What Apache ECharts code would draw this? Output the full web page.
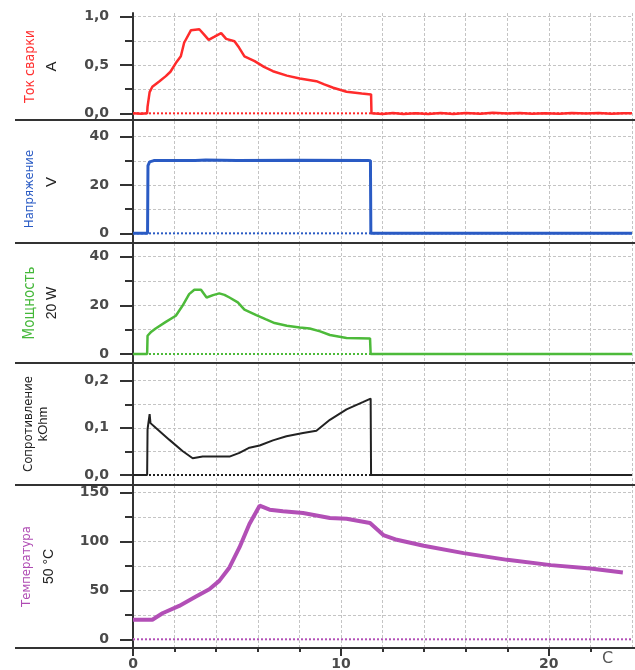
<!DOCTYPE html>
<html><head><meta charset="utf-8">
<script src="https://cdn.jsdelivr.net/npm/echarts@6/dist/echarts.min.js"></script>
<style>html,body{margin:0;padding:0;background:#fff}#c{width:635px;height:670px}</style>
</head><body><div id="c"></div>
<script>
// ---------- DATA ----------
const xMax = 24;
const xMajorTicks = [0, 10, 20];
const xMinorTicks = [2, 4, 6, 8, 12, 14, 16, 18, 22];

const titles = ['Ток сварки', 'Напряжение', 'Мощность', 'Сопротивление', 'Температура'];
const units = ['A', 'V', '20 W', 'kOhm', '50 °C'];

const currentMajor = [0, 0.5, 1.0], currentMinor = [0.25, 0.75];
const voltageMajor = [0, 20, 40], voltageMinor = [10, 30];
const powerMajor = [0, 20, 40], powerMinor = [10, 30];
const resistMajor = [0, 0.1, 0.2], resistMinor = [0.05, 0.15];
const tempMajor = [0, 50, 100, 150], tempMinor = [25, 75, 125];

const zeroLine = [[0, 0], [24, 0]];

const currentData = [[0,0],[0.4,-0.004],[0.68,0],[0.7,0.07],[0.78,0.08],[0.8,0.22],[0.93,0.275],[1.26,0.33],[1.58,0.385],[1.8,0.43],[2.06,0.52],[2.3,0.59],[2.46,0.73],[2.79,0.86],[3.19,0.87],[3.4,0.82],[3.64,0.76],[3.9,0.79],[4.24,0.83],[4.48,0.77],[4.88,0.745],[5.1,0.68],[5.36,0.59],[5.85,0.54],[6.3,0.48],[6.73,0.436],[7.4,0.39],[8.02,0.36],[8.82,0.333],[9.2,0.3],[9.63,0.265],[10.27,0.224],[11.0,0.205],[11.45,0.196],[11.47,0.0],[12,-0.006],[12.5,0.004],[13,-0.008],[13.6,0.002],[14.2,-0.006],[14.8,0.004],[15.4,-0.006],[16,0.003],[16.7,-0.004],[17.3,0.005],[18,-0.003],[18.6,0.004],[19.2,-0.005],[19.8,0.002],[20.5,-0.004],[21.1,0.004],[21.8,-0.003],[22.4,0.003],[23,-0.004],[23.6,0.002],[24,0.0]];

const voltageData = [[0,0],[0.7,0],[0.72,28],[0.8,29.6],[1.0,30.1],[3,30.1],[3.5,30.4],[5,30.1],[8,30.3],[11.3,30.2],[11.42,30.1],[11.44,0],[24,0]];

const powerData = [[0,0],[0.68,0],[0.7,7.5],[0.85,8.9],[1.09,10.5],[1.58,13.2],[2.06,15.7],[2.38,19.8],[2.7,24.6],[2.95,26.4],[3.27,26.4],[3.54,23.2],[3.85,24.2],[4.15,24.9],[4.4,24.3],[4.64,23.2],[5.04,21.2],[5.36,18.2],[5.93,16],[6.4,14.2],[6.81,12.7],[7.4,11.6],[8.02,10.9],[8.5,10.5],[9.0,9.3],[9.47,7.8],[10.27,6.6],[11.4,6.4],[11.43,0],[24,0]];

const resistanceData = [[0,0],[0.68,0],[0.7,0.097],[0.78,0.097],[0.8,0.129],[0.84,0.11],[0.9,0.112],[1.09,0.1],[1.74,0.075],[2.38,0.051],[2.87,0.0355],[3.35,0.039],[4.64,0.039],[5.12,0.047],[5.6,0.058],[6.09,0.0625],[6.73,0.0735],[7.38,0.082],[8.18,0.089],[8.82,0.094],[9.47,0.117],[10.27,0.139],[11.08,0.155],[11.43,0.162],[11.45,0],[24,0]];

const temperatureData = [[0,20],[0.93,20],[1.42,26.7],[2.22,34.2],[3.03,43.8],[3.67,51.3],[4.15,59.8],[4.64,73.5],[5.12,94],[5.6,118],[6.09,136.7],[6.57,132.6],[7.21,131],[8.18,129.2],[9.47,124.1],[10.27,123.3],[11.4,119],[11.72,112.8],[12.04,106.7],[12.69,101.8],[13.98,95.7],[15.9,88.2],[18.0,81.3],[20.1,75.9],[22.0,72.5],[23.56,68.4]];

// ---------- LAYOUT / STYLE ----------
const panels = [
  {data: currentData, major: currentMajor, minor: currentMinor, dec: 1, color: '#ff2b2b', width: 2.5, titleColor: '#ff3030', top: 13, height: 107, min: -0.069, max: 1.038, gap: 70, lh: 22, ts: 14, us: 15, tpad: 0},
  {data: voltageData, major: voltageMajor, minor: voltageMinor, dec: 0, color: '#2a5bc4', width: 3, titleColor: '#2a5bc4', top: 121, height: 122, min: -4.0, max: 46.5, gap: 70, lh: 22, ts: 13, us: 15, tpad: 14},
  {data: powerData, major: powerMajor, minor: powerMinor, dec: 0, color: '#4dba3a', width: 2.5, titleColor: '#45b83a', top: 243, height: 120, min: -3.7, max: 45.6, gap: 70, lh: 22, ts: 15, us: 14, tpad: 0},
  {data: resistanceData, major: resistMajor, minor: resistMinor, dec: 1, color: '#222222', width: 2, titleColor: '#222222', top: 363, height: 122, min: -0.0212, max: 0.2375, gap: 83, lh: 14, ts: 13, us: 13, tpad: 0},
  {data: temperatureData, major: tempMajor, minor: tempMinor, dec: 0, color: '#b24fb6', width: 4, titleColor: '#b04cb4', top: 485, height: 163, min: -8.9, max: 157.9, gap: 73, lh: 22, ts: 13, us: 14, tpad: 0}
];

const dash = {color: '#c4c4c4', width: 1, type: [3, 2]};
const axisDark = {color: '#333', width: 2};
const labelFont = {color: '#4a4a4a', fontFamily: 'DejaVu Sans', fontWeight: 'bold', fontSize: 14};
function fmt(v, d) { return (Math.round(v * Math.pow(10, d)) / Math.pow(10, d)).toFixed(d).replace('.', ','); }

const grid = [], xAxis = [], yAxis = [], series = [];
panels.forEach((p, i) => {
  grid.push({left: 133, right: 3, top: p.top, height: p.height, containLabel: false, outerBoundsMode: 'none'});
  xAxis.push({type: 'value', gridIndex: i, min: 0, max: xMax, interval: 2, position: 'bottom',
    axisLine: {show: false, onZero: false}, axisTick: {show: false}, axisLabel: {show: false},
    splitLine: {show: true, lineStyle: dash}});
  yAxis.push({type: 'value', gridIndex: i, position: 'left', min: p.min, max: p.max,
    axisLine: {show: true, onZero: false, lineStyle: axisDark},
    axisTick: {show: true, customValues: p.major, length: 13, lineStyle: axisDark},
    axisLabel: Object.assign({show: true, customValues: p.major, margin: 24, formatter: v => fmt(v, p.dec)}, labelFont),
    splitLine: {show: true, lineStyle: dash},
    name: '{t|' + titles[i] + '}\n{u|' + units[i] + '}', nameLocation: 'middle', nameRotate: 90, nameGap: p.gap,
    nameTextStyle: {rich: {
      t: {color: p.titleColor, fontFamily: 'DejaVu Sans Condensed, Liberation Sans Narrow, sans-serif', fontSize: p.ts, lineHeight: p.lh, padding: [0, p.tpad, 0, 0]},
      u: {color: '#222', fontFamily: 'Liberation Sans, sans-serif', fontSize: p.us, lineHeight: p.lh}
    }}});
  yAxis.push({type: 'value', gridIndex: i, position: 'left', min: p.min, max: p.max,
    axisLine: {show: false, onZero: false},
    axisTick: {show: true, customValues: p.minor, length: 8, lineStyle: axisDark},
    axisLabel: {show: false, customValues: p.minor},
    splitLine: {show: true, lineStyle: dash}});
  series.push({type: 'line', xAxisIndex: i, yAxisIndex: 2 * i, data: zeroLine, symbol: 'none', silent: true, z: 1,
    lineStyle: {color: '#fff', width: 2, type: 'solid'}});
  series.push({type: 'line', xAxisIndex: i, yAxisIndex: 2 * i, data: zeroLine, symbol: 'none', silent: true, z: 1,
    lineStyle: {color: p.color, width: 2, type: 'dotted'}});
  series.push({type: 'line', xAxisIndex: i, yAxisIndex: 2 * i, data: p.data, symbol: 'none', showSymbol: false, z: 3,
    lineStyle: {color: p.color, width: p.width}});
});
// bottom time axis: minor ticks
xAxis.push({type: 'value', gridIndex: 4, min: 0, max: xMax, position: 'bottom',
  axisLine: {show: false, onZero: false},
  axisTick: {show: true, customValues: xMinorTicks, length: 4, lineStyle: axisDark},
  axisLabel: {show: false, customValues: xMinorTicks}, splitLine: {show: false}});
// bottom time axis: major ticks + labels + unit
xAxis.push({type: 'value', gridIndex: 4, min: 0, max: xMax, position: 'bottom',
  axisLine: {show: false, onZero: false},
  axisTick: {show: true, customValues: xMajorTicks, length: 8, lineStyle: axisDark},
  axisLabel: Object.assign({show: true, customValues: xMajorTicks, margin: 9}, labelFont),
  splitLine: {show: false},
  name: 'C', nameLocation: 'end', nameGap: -30,
  nameTextStyle: {color: '#555', fontFamily: 'DejaVu Sans', fontSize: 16, verticalAlign: 'top', padding: [3, 0, 0, 0]}});

const separators = panels.map(p => p.top + p.height);
const graphic = separators.map(y => ({type: 'line', shape: {x1: 15, y1: y, x2: 635, y2: y},
  style: {stroke: '#333', lineWidth: 2}, z: 100, silent: true}));

const chart = echarts.init(document.getElementById('c'), null, {renderer: 'canvas'});
chart.setOption({
  animation: false,
  backgroundColor: '#fff',
  textStyle: {fontFamily: 'DejaVu Sans'},
  grid, xAxis, yAxis, series, graphic
});
</script></body></html>
